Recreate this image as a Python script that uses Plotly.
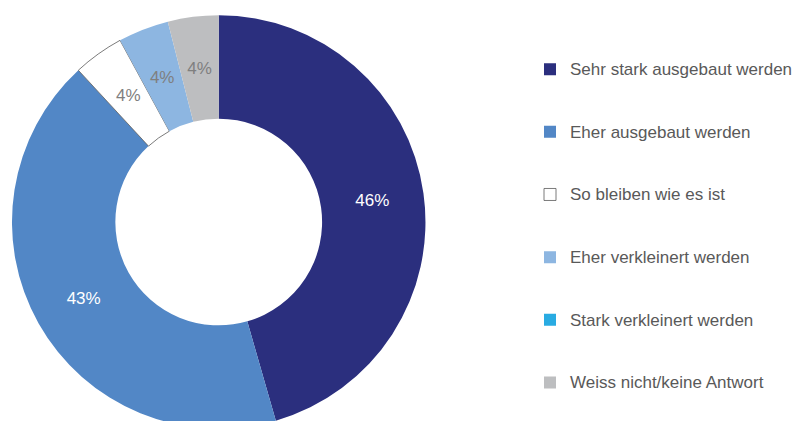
import math
import plotly.graph_objects as go

# Survey answers and their shares (percent)
labels = [
    "Sehr stark ausgebaut werden",
    "Eher ausgebaut werden",
    "So bleiben wie es ist",
    "Eher verkleinert werden",
    "Stark verkleinert werden",
    "Weiss nicht/keine Antwort",
]
values = [46, 43, 4, 4, 0, 4]

colors = ["#2B2F7E", "#5287C6", "#FFFFFF", "#8DB6E1", "#29ABE2", "#BDBEC0"]
text_colors = ["#FFFFFF", "#FFFFFF", "#7F7F7F", "#7F7F7F", "#7F7F7F", "#7F7F7F"]
line_colors = ["rgba(0,0,0,0)", "rgba(0,0,0,0)", "#595959", "rgba(0,0,0,0)", "rgba(0,0,0,0)", "rgba(0,0,0,0)"]
line_widths = [0, 0, 0.8, 0, 0, 0]

W, H = 798, 430
TOP, BOTTOM = 15, 1
FONT = "Liberation Sans, Arial, sans-serif"
HOLE = 0.5
SMALL = 10  # slices below this share get their label from the label ring

# donut geometry in pixels
cx, cy, R = 219, 222, 207
plot_h = H - TOP - BOTTOM


def domain_for(radius):
    return dict(
        x=[(cx - radius) / W, (cx + radius) / W],
        y=[(TOP + plot_h - (cy + radius)) / plot_h, (TOP + plot_h - (cy - radius)) / plot_h],
    )


# thin slices centre their horizontal text on the inscribed circle, which sits
# near the outer rim; a transparent label ring of smaller radius brings those
# labels back to the middle of the donut band
total = sum(values)
thin_half = math.radians(4 / total * 360 / 2)
r_ins = math.sin(thin_half) / (1 + math.sin(thin_half))
R_label = R * (1 + HOLE) / 2 / (1 - r_ins)

big_text = [f"{v}%" if v >= SMALL else "" for v in values]
small_text = [f"{v}%" if 0 < v < SMALL else "" for v in values]

# blank lines around each legend entry spread the entries vertically
pad = "\u00a0"
legend_names = [f'{pad}<br><span style="font-size:17px">{lab}</span><br>{pad}' for lab in labels]

common = dict(
    labels=legend_names,
    values=values,
    textinfo="text",
    textposition="inside",
    insidetextorientation="horizontal",
    textfont=dict(family=FONT, size=17, color=text_colors),
    sort=False,
    direction="clockwise",
    rotation=0,
    hoverinfo="skip",
)

fig = go.Figure()
fig.add_trace(
    go.Pie(
        text=big_text,
        hole=HOLE,
        marker=dict(colors=colors, line=dict(color=line_colors, width=line_widths)),
        domain=domain_for(R),
        **common,
    )
)
fig.add_trace(
    go.Pie(
        text=small_text,
        hole=HOLE,
        marker=dict(colors=["rgba(0,0,0,0)"] * len(values), line=dict(width=0)),
        domain=domain_for(R_label),
        showlegend=False,
        **common,
    )
)

fig.update_layout(
    width=W,
    height=H,
    margin=dict(l=0, r=0, t=TOP, b=BOTTOM),
    paper_bgcolor="white",
    plot_bgcolor="white",
    showlegend=True,
    legend=dict(
        x=0.6654,
        xanchor="left",
        y=0.957,
        yanchor="top",
        font=dict(family=FONT, size=15.3, color="#595959"),
        valign="middle",
        bgcolor="rgba(0,0,0,0)",
    ),
)

fig.write_html("out.html", post_script="document.body.style.overflow='hidden';document.body.style.margin='0';")
